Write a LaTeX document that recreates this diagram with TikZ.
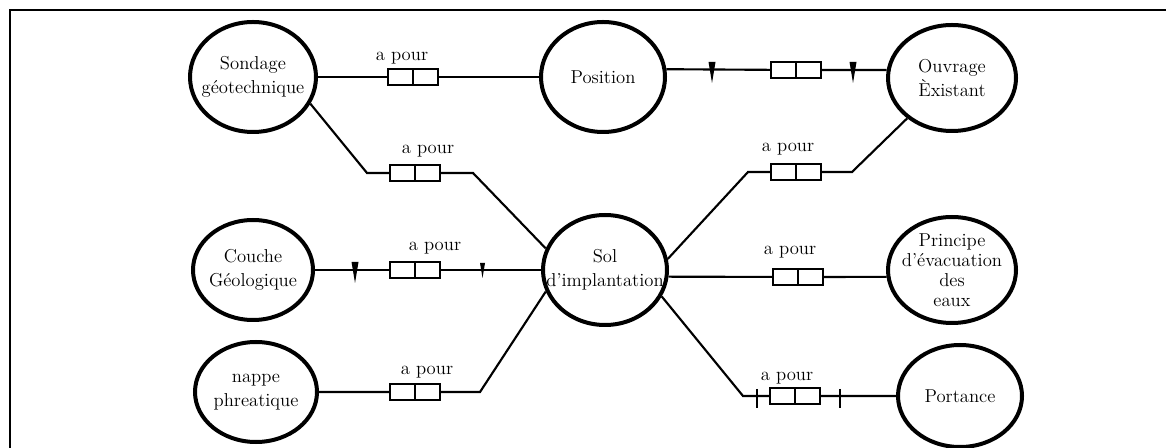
\documentclass[tikz,border=0pt]{standalone}
\usepackage{tikz}
\usetikzlibrary{positioning,shapes.geometric,calc}
\tikzset{
  entite/.style 2 args={ellipse, draw, line width=3pt, inner sep=0pt,
    minimum width={#1*1.5pt}, minimum height={#2*1.5pt}},
  texte/.style={align=center, inner sep=0pt, font=\fontsize{14}{18}\selectfont},
  boite/.style={draw, line width=1.5pt, fill=white, inner sep=0pt,
    minimum width=37.5pt, minimum height=11.5pt,
    path picture={\draw[line width=1.5pt] (path picture bounding box.north) -- (path picture bounding box.south);}},
  lien/.style={line width=1.6pt}
}

\begin{document}
\begin{tikzpicture}[x=0.75pt,y=-0.75pt]
			\useasboundingbox (0,0) rectangle (1166,448);
			\draw[line width=1.5pt] (10,448) -- (10,10) -- (1166,10);

			\node[entite={63}{55}] (sondage) at (253,77) {};
			\node[entite={62}{55}] (position) at (603,77) {};
			\node[entite={64}{53}] (ouvrage) at (952,78) {};
			\node[entite={60}{50}] (couche) at (253,270) {};
			\node[entite={62}{55}] (sol) at (605,270) {};
			\node[entite={64}{53}] (principe) at (952,270) {};
			\node[entite={61}{50}] (nappe) at (256,392) {};
			\node[entite={62}{51}] (portance) at (960,396) {};

			\node[texte] (t-sondage) at (sondage) {Sondage\\géotechnique};
			\node[texte] (t-position) at (position) {Position};
			\node[texte] (t-ouvrage) at (ouvrage) {Ouvrage\\Èxistant};
			\node[texte] (t-couche) at (couche) {Couche\\Géologique};
			\node[texte] (t-sol) at (sol) {Sol\\d'implantation};
			\node[texte, font=\fontsize{14}{15}\selectfont] (t-principe) at (principe) {Principe\\d'évacuation\\des\\eaux};
			\node[texte] (t-nappe) at (nappe) {nappe\\phreatique};
			\node[texte] (t-portance) at (portance) {Portance};

			\node[boite] (b1) at (413,77) {};
			\node[boite] (b2) at (796,70) {};
			\node[boite] (b3) at (415,173) {};
			\node[boite] (b4) at (415,270) {};
			\node[boite] (b5) at (415,392) {};
			\node[boite] (b6) at (796,172) {};
			\node[boite] (b7) at (798,277) {};
			\node[boite] (b8) at (795,396) {};

			\node[texte] (ap1) at (402,58) {a pour};
			\node[texte] (ap3) at (428,151) {a pour};
			\node[texte] (ap4) at (435,248) {a pour};
			\node[texte] (ap5) at (427,372) {a pour};
			\node[texte] (ap6) at (788,149) {a pour};
			\node[texte] (ap7) at (790,252) {a pour};
			\node[texte] (ap8) at (787,378) {a pour};

			\coordinate (k1) at (367,173);
			\coordinate (k2) at (473,173);
			\coordinate (k3) at (480,392);
			\coordinate (k4) at (748,172);
			\coordinate (k5) at (852,172);
			\coordinate (k6) at (743,396);

			\begin{scope}[lien]
			\draw (sondage) -- (b1) -- (position);
			\draw (position.7) -- (b2) -- (ouvrage.173);
			\draw (sondage.-25) -- (k1) -- (b3) -- (k2) -- (sol.160);
			\draw (couche) -- (b4) -- (sol);
			\draw (nappe) -- (b5) -- (k3) -- (sol.200);
			\draw (sol.10) -- (k4) -- (b6) -- (k5) -- (ouvrage.222);
			\draw (sol.-6) -- (b7) -- (principe.186);
			\draw (sol.-25) -- (k6) -- (b8) -- (portance);
			\end{scope}

			\foreach \x/\y in {712/70, 853/70, 355/270}
			\fill (\x-3.5,\y-8) -- (\x+3.5,\y-8) -- (\x,\y+13) -- cycle;
			\fill (480,263) -- (485,263) -- (482.5,278) -- cycle;
			\foreach \x/\y in {757/396, 840/396}
			\draw[line width=2.2pt] (\x,\y-7) -- (\x,\y+12);
\end{tikzpicture}
\end{document}
